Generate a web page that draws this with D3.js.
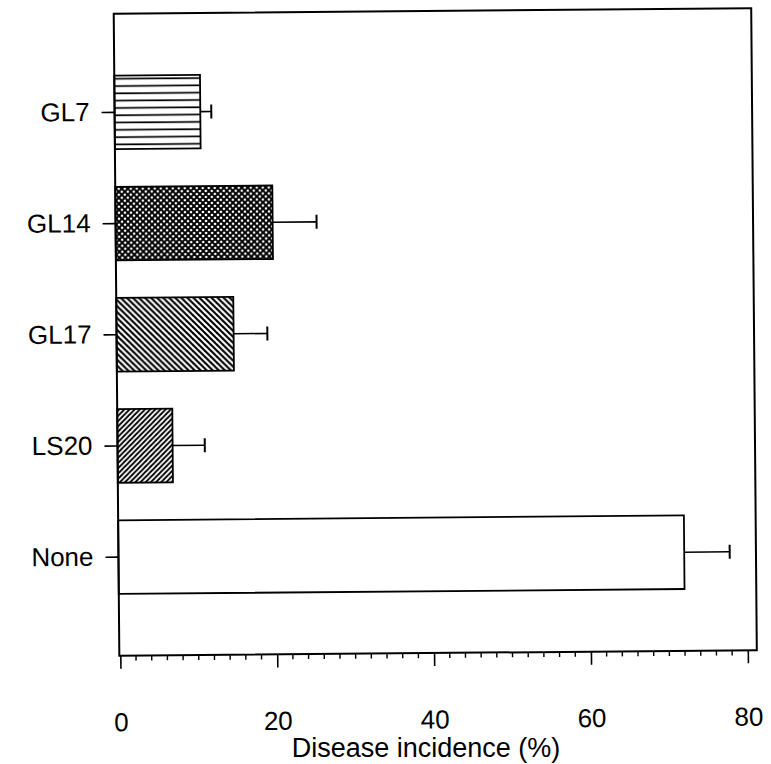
<!DOCTYPE html>
<html>
<head>
<meta charset="utf-8">
<script src="https://cdn.jsdelivr.net/npm/d3@7/dist/d3.min.js"></script>
<style>
  html, body { margin: 0; padding: 0; background: #fff; }
  svg text { font-family: "Liberation Sans", Arial, Helvetica, sans-serif; fill: #000; }
</style>
</head>
<body>
<svg id="chart" width="771" height="764"></svg>
<script>
// Treatments, top to bottom
const categories = ["GL7", "GL14", "GL17", "LS20", "None"];
// Mean disease incidence (%) and the length of its upper error bar
const incidence = [10.8, 19.9, 14.8, 6.9, 72.0];
const errors = [1.4, 5.6, 4.3, 4.1, 5.8];
// Fill style of each bar
const fills = ["hlines", "dots", "back", "fwd", "none"];
const xTicks = [0, 20, 40, 60, 80];

const svg = d3.select("#chart");
const frame = { left: 116.5, right: 754, top: 11, bottom: 653 };

const x = d3.scaleLinear().domain([0, 80]).range([117.5, 745]);
const y = d3.scaleBand().domain(categories).range([frame.top, frame.bottom])
  .paddingInner(0.338).paddingOuter(0.556);

// Hatch patterns
const defs = svg.append("defs");
const pH = defs.append("pattern").attr("id", "hlines").attr("patternUnits", "userSpaceOnUse")
  .attr("width", 8).attr("height", 7.3);
pH.append("rect").attr("width", 8).attr("height", 7.3).attr("fill", "#fff");
pH.append("line").attr("x1", 0).attr("x2", 8).attr("y1", 3).attr("y2", 3)
  .attr("stroke", "#000").attr("stroke-width", 1.7);

const pD = defs.append("pattern").attr("id", "dots").attr("patternUnits", "userSpaceOnUse")
  .attr("width", 6).attr("height", 6);
pD.append("rect").attr("width", 6).attr("height", 6).attr("fill", "#000");
[[0, 0], [6, 0], [0, 6], [6, 6], [3, 3]].forEach(([cx, cy]) =>
  pD.append("circle").attr("cx", cx).attr("cy", cy).attr("r", 1.3).attr("fill", "#fff"));

function diag(id, spacing, dir, sw) {
  const p = defs.append("pattern").attr("id", id).attr("patternUnits", "userSpaceOnUse")
    .attr("width", spacing).attr("height", spacing);
  p.append("rect").attr("width", spacing).attr("height", spacing).attr("fill", "#fff");
  const s = spacing;
  const segs = dir === "back"
    ? [[-s, 0, s, 2 * s], [0, -s, 2 * s, s], [-s, -s, s, s]]
    : [[-s, s, s, -s], [0, 2 * s, 2 * s, 0], [0, s, s, 0]];
  segs.forEach(([a, b, c, d]) => p.append("line")
    .attr("x1", a).attr("y1", b).attr("x2", c).attr("y2", d)
    .attr("stroke", "#000").attr("stroke-width", sw));
}
diag("back", 6, "back", 2.1);
diag("fwd", 5.2, "fwd", 1.9);

// The printed figure sits very slightly rotated on the page
const g = svg.append("g").attr("transform", "rotate(-0.5, 435, 330)");

// Bars
const data = categories.map((c, i) => ({ c, v: incidence[i], e: errors[i], f: fills[i] }));
g.selectAll("rect.bar").data(data).join("rect")
  .attr("class", "bar")
  .attr("x", frame.left)
  .attr("y", d => y(d.c))
  .attr("width", d => x(d.v) - frame.left)
  .attr("height", y.bandwidth())
  .attr("fill", d => d.f === "none" ? "#fff" : `url(#${d.f})`)
  .attr("stroke", "#000").attr("stroke-width", 1.8);

// Error bars
const mid = d => y(d.c) + y.bandwidth() / 2;
const eb = g.selectAll("g.err").data(data).join("g").attr("class", "err");
eb.append("line")
  .attr("x1", d => x(d.v)).attr("x2", d => x(d.v + d.e))
  .attr("y1", mid).attr("y2", mid)
  .attr("stroke", "#000").attr("stroke-width", 1.6);
eb.append("line")
  .attr("x1", d => x(d.v + d.e)).attr("x2", d => x(d.v + d.e))
  .attr("y1", d => mid(d) - 7).attr("y2", d => mid(d) + 7)
  .attr("stroke", "#000").attr("stroke-width", 2);

// Frame
g.append("rect").attr("x", frame.left).attr("y", frame.top)
  .attr("width", frame.right - frame.left).attr("height", frame.bottom - frame.top)
  .attr("fill", "none").attr("stroke", "#000").attr("stroke-width", 2);

// X axis: labelled major ticks, minor ticks every 2 units
const xAxis = d3.axisBottom(x).tickValues(xTicks).tickSize(13).tickPadding(44).tickFormat(d3.format("d"));
const gx = g.append("g").attr("transform", `translate(0,${frame.bottom})`).call(xAxis);
gx.select(".domain").remove();
gx.selectAll("line").attr("stroke", "#000").attr("stroke-width", 1.6);
gx.selectAll("text").attr("font-size", 26).style("font-family", '"Liberation Sans", Arial, sans-serif');
const minor = d3.range(0, 81, 2).filter(v => v % 20 !== 0);
g.append("g").selectAll("line").data(minor).join("line")
  .attr("x1", d => x(d)).attr("x2", d => x(d))
  .attr("y1", frame.bottom).attr("y2", frame.bottom + 5)
  .attr("stroke", "#000").attr("stroke-width", 1.4);

// Y axis
const yAxis = d3.axisLeft(y).tickSize(13).tickPadding(12);
const gy = g.append("g").attr("transform", `translate(${frame.left},0)`).call(yAxis);
gy.select(".domain").remove();
gy.selectAll("line").attr("stroke", "#000").attr("stroke-width", 1.6);
gy.selectAll("text").attr("font-size", 26).style("font-family", '"Liberation Sans", Arial, sans-serif');

// Axis title
svg.append("text").attr("x", 426).attr("y", 757).attr("text-anchor", "middle")
  .attr("font-size", 27).text("Disease incidence (%)");
</script>
</body>
</html>
